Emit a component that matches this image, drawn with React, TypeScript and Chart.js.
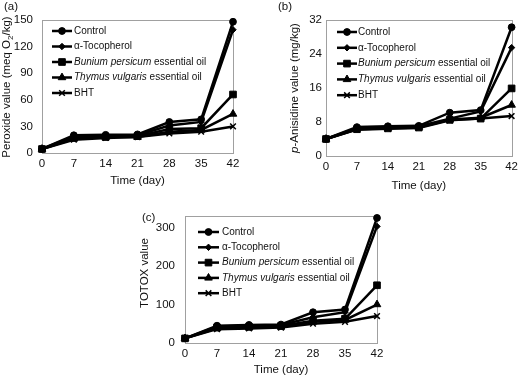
import React, { useEffect, useRef } from 'react';
import { Chart, registerables } from 'chart.js';
import { drawPoint } from 'chart.js/helpers';

Chart.register(...registerables);

const FAMILY = '"Liberation Sans", Arial, Helvetica, sans-serif';

const days = [0, 7, 14, 21, 28, 35, 42];

const peroxideControl = [4.5, 20, 20.5, 21, 35, 38, 148];
const peroxideTocopherol = [4.5, 19, 19.5, 20, 31, 35, 139];
const peroxideBunium = [4.5, 17, 18, 19, 27, 28, 66];
const peroxideThymus = [4.5, 16, 18, 18, 24, 26, 44];
const peroxideBHT = [4.5, 15, 17, 18, 22, 24, 30];

const anisidineControl = [4, 6.8, 7, 7.1, 10.2, 10.8, 30.3];
const anisidineTocopherol = [4, 6.6, 6.8, 7, 8.8, 10.5, 25.5];
const anisidineBunium = [4, 6.3, 6.5, 6.7, 8.5, 8.8, 15.9];
const anisidineThymus = [4, 6.4, 6.6, 6.8, 8.6, 9, 12];
const anisidineBHT = [4, 6.2, 6.4, 6.6, 8.4, 8.8, 9.4];

const totoxControl = [12, 45, 47, 48, 80, 87, 325];
const totoxTocopherol = [12, 43, 45, 47, 67, 80, 303];
const totoxBunium = [12, 40, 42, 44, 58, 63, 150];
const totoxThymus = [12, 38, 40, 42, 55, 60, 100];
const totoxBHT = [12, 36, 38, 40, 50, 55, 70];

const peroxideTicks = [0, 30, 60, 90, 120, 150];
const anisidineTicks = [0, 8, 16, 24, 32];
const totoxTicks = [0, 100, 200, 300];

type Seg = { t: string; i?: boolean; sub?: boolean };

const seriesLabels: Seg[][] = [
  [{ t: 'Control' }],
  [{ t: 'α-Tocopherol' }],
  [{ t: 'Bunium persicum', i: true }, { t: ' essential oil' }],
  [{ t: 'Thymus vulgaris', i: true }, { t: ' essential oil' }],
  [{ t: 'BHT' }],
];

const markerStyles = [
  { pointStyle: 'circle', radius: 3.4, bw: 1 },
  { pointStyle: 'rectRot', radius: 3.2, bw: 1 },
  { pointStyle: 'rect', radius: 4.7, bw: 1 },
  { pointStyle: 'triangle', radius: 4.4, bw: 1 },
  { pointStyle: 'crossRot', radius: 4, bw: 1.5 },
];

interface PanelCfg {
  x: number; y: number; w: number; h: number;
  pad: { left: number; top: number; right: number; bottom: number };
  yWidth: number; xHeight: number;
  yMax: number; yTicks: number[];
  yTickPad: number; xTickPad: number;
  yTitle: Seg[]; yTitleX: number; yTitleY?: number; yTitleSize: number;
  xTitleY: number;
  letter: string; letterX: number; letterY: number;
  legX: number; legY: number; legSpacing: number; legLen: number; legGap: number;
  series: number[][];
}

const panels: PanelCfg[] = [
  {
    x: 0, y: 0, w: 260, h: 192,
    pad: { left: 0, top: 20, right: 27, bottom: 0 },
    yWidth: 42, xHeight: 39,
    yMax: 150, yTicks: peroxideTicks,
    yTickPad: 9, xTickPad: 4,
    yTitle: [{ t: 'Peroxide value (meq O' }, { t: '2', sub: true }, { t: '/kg)' }],
    yTitleX: 7, yTitleY: 87, yTitleSize: 11.5,
    xTitleY: 181,
    letter: '(a)', letterX: 4, letterY: 7,
    legX: 52, legY: 31, legSpacing: 15.5, legLen: 20, legGap: 2,
    series: [peroxideControl, peroxideTocopherol, peroxideBunium, peroxideThymus, peroxideBHT],
  },
  {
    x: 260, y: 0, w: 262, h: 195,
    pad: { left: 0, top: 20, right: 6, bottom: 0 },
    yWidth: 66, xHeight: 39,
    yMax: 32, yTicks: anisidineTicks,
    yTickPad: 4, xTickPad: 4,
    yTitle: [{ t: 'p', i: true }, { t: '-Anisidine value (mg/kg)' }],
    yTitleX: 35, yTitleSize: 11.5,
    xTitleY: 186,
    letter: '(b)', letterX: 18, letterY: 7,
    legX: 77, legY: 32, legSpacing: 15.8, legLen: 20, legGap: 1,
    series: [anisidineControl, anisidineTocopherol, anisidineBunium, anisidineThymus, anisidineBHT],
  },
  {
    x: 120, y: 190, w: 280, h: 186,
    pad: { left: 0, top: 26, right: 23, bottom: 0 },
    yWidth: 65, xHeight: 33,
    yMax: 330, yTicks: totoxTicks,
    yTickPad: 10, xTickPad: 4,
    yTitle: [{ t: 'TOTOX value' }],
    yTitleX: 25, yTitleY: 83, yTitleSize: 11.5,
    xTitleY: 180,
    letter: '(c)', letterX: 22, letterY: 28,
    legX: 78, legY: 42, legSpacing: 15.3, legLen: 21, legGap: 3,
    series: [totoxControl, totoxTocopherol, totoxBunium, totoxThymus, totoxBHT],
  },
];

function drawRich(ctx: CanvasRenderingContext2D, segs: Seg[], x: number, y: number, size: number, align: 'left' | 'center') {
  const fontOf = (s: Seg) => `${s.i ? 'italic ' : ''}${s.sub ? size * 0.7 : size}px ${FAMILY}`;
  const widths = segs.map((s) => { ctx.font = fontOf(s); return ctx.measureText(s.t).width; });
  const total = widths.reduce((a, b) => a + b, 0);
  let cx = align === 'center' ? x - total / 2 : x;
  ctx.textAlign = 'left';
  ctx.textBaseline = 'middle';
  segs.forEach((s, k) => {
    ctx.font = fontOf(s);
    ctx.fillText(s.t, cx, y + (s.sub ? size * 0.3 : 0));
    cx += widths[k];
  });
}

function Panel({ cfg }: { cfg: PanelCfg }) {
  const ref = useRef<HTMLCanvasElement>(null);
  useEffect(() => {
    const decor = {
      id: 'decor',
      beforeDatasetsDraw(chart: any) {
        const { ctx, chartArea: a } = chart;
        ctx.save();
        ctx.strokeStyle = '#a0a0a0';
        ctx.lineWidth = 1;
        ctx.strokeRect(Math.round(a.left) + 0.5, Math.round(a.top) + 0.5, Math.round(a.right - a.left), Math.round(a.bottom - a.top));
        ctx.restore();
      },
      afterDraw(chart: any) {
        const { ctx, chartArea: a } = chart;
        ctx.save();
        ctx.fillStyle = '#111';
        // y title
        ctx.save();
        ctx.translate(cfg.yTitleX, cfg.yTitleY ?? (a.top + a.bottom) / 2);
        ctx.rotate(-Math.PI / 2);
        drawRich(ctx, cfg.yTitle, 0, 0, cfg.yTitleSize, 'center');
        ctx.restore();
        // x title
        drawRich(ctx, [{ t: 'Time (day)' }], (a.left + a.right) / 2, cfg.xTitleY, 11.5, 'center');
        // letter
        drawRich(ctx, [{ t: cfg.letter }], cfg.letterX, cfg.letterY, 11.5, 'left');
        // legend
        seriesLabels.forEach((segs, i) => {
          const yy = cfg.legY + i * cfg.legSpacing;
          const m = markerStyles[i];
          ctx.strokeStyle = '#000';
          ctx.lineWidth = 2.5;
          ctx.beginPath();
          ctx.moveTo(cfg.legX, yy);
          ctx.lineTo(cfg.legX + cfg.legLen, yy);
          ctx.stroke();
          ctx.fillStyle = '#000';
          ctx.lineWidth = m.bw;
          drawPoint(ctx, { pointStyle: m.pointStyle as any, radius: m.radius, rotation: 0, borderWidth: m.bw }, cfg.legX + cfg.legLen / 2, yy);
          ctx.fillStyle = '#111';
          drawRich(ctx, segs, cfg.legX + cfg.legLen + cfg.legGap, yy, 10, 'left');
        });
        ctx.restore();
      },
    };

    const chart = new Chart(ref.current!, {
      type: 'line',
      data: {
        datasets: cfg.series.map((vals, i) => ({
          label: seriesLabels[i].map((s) => s.t).join(''),
          data: days.map((d, j) => ({ x: d, y: vals[j] })),
          borderColor: '#000',
          backgroundColor: '#000',
          borderWidth: 2.5,
          pointStyle: markerStyles[i].pointStyle as any,
          pointRadius: markerStyles[i].radius,
          pointBorderWidth: markerStyles[i].bw,
          pointBackgroundColor: '#000',
          pointBorderColor: '#000',
          tension: 0,
          clip: false as any,
        })),
      },
      options: {
        animation: false,
        responsive: false,
        devicePixelRatio: 1,
        layout: { padding: cfg.pad },
        plugins: { legend: { display: false }, tooltip: { enabled: false } },
        scales: {
          x: {
            type: 'linear',
            min: 0,
            max: 42,
            afterBuildTicks: (s: any) => { s.ticks = days.map((d) => ({ value: d })); },
            afterFit: (s: any) => { s.height = cfg.xHeight; },
            grid: { display: false, drawTicks: false },
            border: { display: false },
            ticks: { padding: cfg.xTickPad, color: '#111', font: { family: FAMILY, size: 11.5 }, maxRotation: 0, autoSkip: false },
          },
          y: {
            type: 'linear',
            min: 0,
            max: cfg.yMax,
            afterBuildTicks: (s: any) => { s.ticks = cfg.yTicks.map((v) => ({ value: v })); },
            afterFit: (s: any) => { s.width = cfg.yWidth; },
            grid: { display: false, drawTicks: false },
            border: { display: false },
            ticks: { padding: cfg.yTickPad, color: '#111', font: { family: FAMILY, size: 11.5 } },
          },
        },
      },
      plugins: [decor],
    });
    return () => chart.destroy();
  }, [cfg]);
  return (
    <canvas
      ref={ref}
      width={cfg.w}
      height={cfg.h}
      style={{ position: 'absolute', left: cfg.x, top: cfg.y, width: cfg.w, height: cfg.h }}
    />
  );
}

export default function App() {
  return (
    <div style={{ position: 'absolute', left: 0, top: 0, width: 522, height: 376, background: '#fff', overflow: 'hidden' }}>
      {panels.map((p, i) => (
        <Panel key={i} cfg={p} />
      ))}
    </div>
  );
}
